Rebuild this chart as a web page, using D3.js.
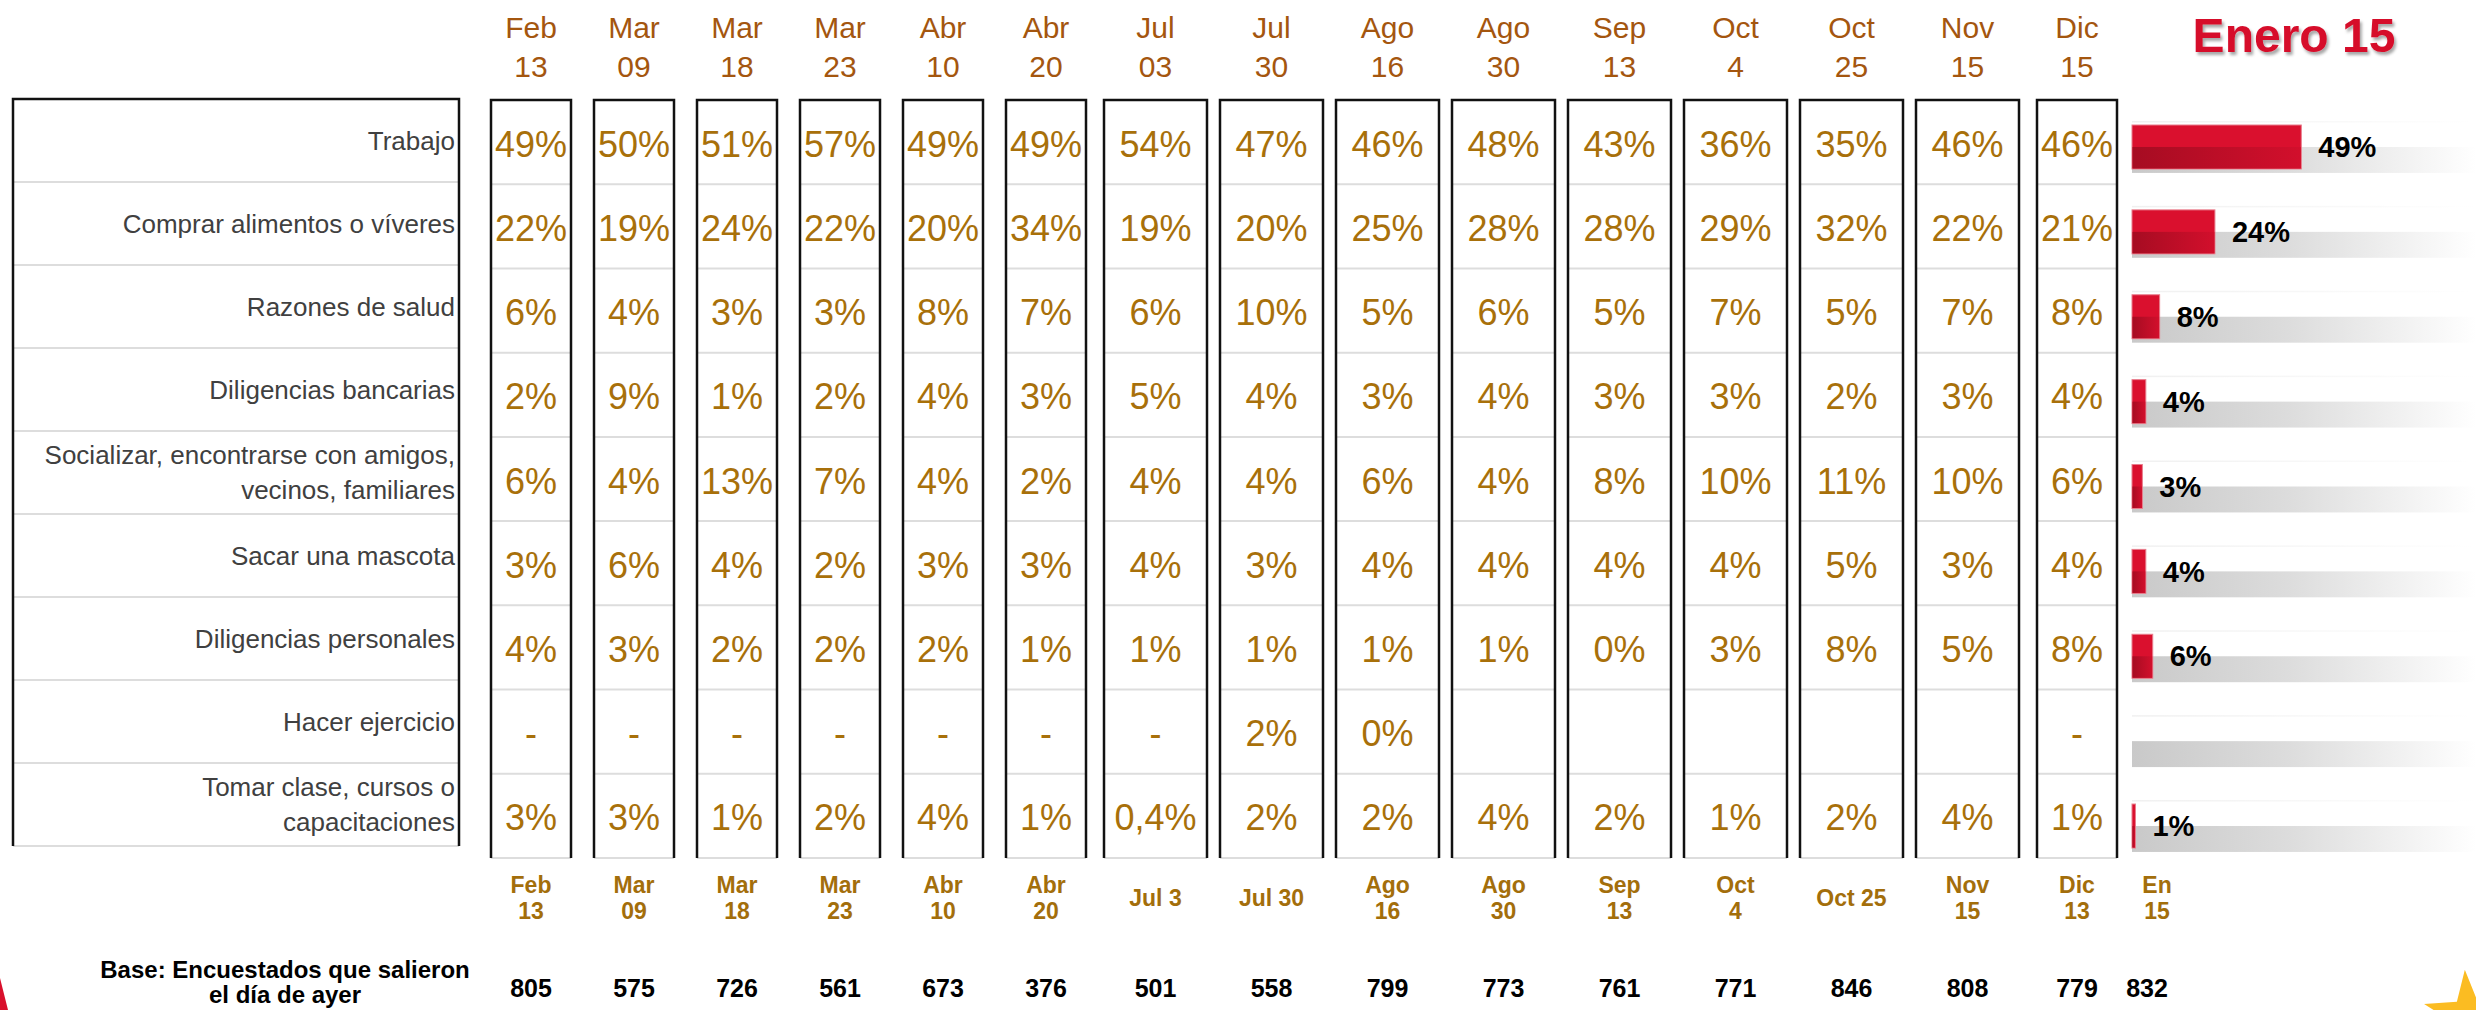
<!DOCTYPE html>
<html>
<head>
<meta charset="utf-8">
<script src="https://cdn.jsdelivr.net/npm/d3@7"></script>
<style>
  body { margin: 0; background: #fff; }
  svg { display: block; font-family: 'Liberation Sans', Arial, sans-serif; }
</style>
</head>
<body>
<div id="chart"></div>
<script>
const categories = [
    'Trabajo',
    'Comprar alimentos o víveres',
    'Razones de salud',
    'Diligencias bancarias',
    'Socializar, encontrarse con amigos,\nvecinos, familiares',
    'Sacar una mascota',
    'Diligencias personales',
    'Hacer ejercicio',
    'Tomar clase, cursos o\ncapacitaciones'
];

const surveyDates = ['Feb\n13', 'Mar\n09', 'Mar\n18', 'Mar\n23', 'Abr\n10', 'Abr\n20',
    'Jul\n03', 'Jul\n30', 'Ago\n16', 'Ago\n30', 'Sep\n13', 'Oct\n4', 'Oct\n25', 'Nov\n15', 'Dic\n15'];

// one array per category, one value per survey ('-' = dash, null = empty cell)
const trabajo = [49, 50, 51, 57, 49, 49, 54, 47, 46, 48, 43, 36, 35, 46, 46];
const comprarAlimentos = [22, 19, 24, 22, 20, 34, 19, 20, 25, 28, 28, 29, 32, 22, 21];
const razonesSalud = [6, 4, 3, 3, 8, 7, 6, 10, 5, 6, 5, 7, 5, 7, 8];
const diligenciasBancarias = [2, 9, 1, 2, 4, 3, 5, 4, 3, 4, 3, 3, 2, 3, 4];
const socializar = [6, 4, 13, 7, 4, 2, 4, 4, 6, 4, 8, 10, 11, 10, 6];
const sacarMascota = [3, 6, 4, 2, 3, 3, 4, 3, 4, 4, 4, 4, 5, 3, 4];
const diligenciasPersonales = [4, 3, 2, 2, 2, 1, 1, 1, 1, 1, 0, 3, 8, 5, 8];
const hacerEjercicio = ['-', '-', '-', '-', '-', '-', '-', 2, 0, null, null, null, null, null, '-'];
const tomarClase = [3, 3, 1, 2, 4, 1, 0.4, 2, 2, 4, 2, 1, 2, 4, 1];

const enero15 = [49, 24, 8, 4, 3, 4, 6, null, 1];

const baseLabels = ['Feb\n13', 'Mar\n09', 'Mar\n18', 'Mar\n23', 'Abr\n10', 'Abr\n20',
    'Jul 3', 'Jul 30', 'Ago\n16', 'Ago\n30', 'Sep\n13', 'Oct\n4', 'Oct 25', 'Nov\n15', 'Dic\n13', 'En\n15'];
const baseCounts = [805, 575, 726, 561, 673, 376, 501, 558, 799, 773, 761, 771, 846, 808, 779, 832];

const rows = [trabajo, comprarAlimentos, razonesSalud, diligenciasBancarias, socializar,
    sacarMascota, diligenciasPersonales, hacerEjercicio, tomarClase];

const config = {
    width: 2476,
    height: 1010,
    firstCenter: 531,
    narrowSlot: 103,
    wideSlot: 116,
    narrowBox: 80,
    wideBox: 103,
    boxTop: 100,
    boxBottom: 858,
    labelLeft: 13,
    labelRight: 459,
    labelTop: 99,
    labelBottom: 846,
    barLeft: 2132,
    valueColor: '#a8700a',
    headColor: '#a4560f',
    baseColor: '#a36e0b',
    red: '#da102e'
};

// the surveys from Jul 03 to Nov 15 sit in wider boxes
const isWide = i => i >= 6 && i <= 13;

const columnCenters = () => {
    const centers = [config.firstCenter];
    for (let i = 1; i < surveyDates.length; i++) {
        const prev = isWide(i - 1) ? config.wideSlot : config.narrowSlot;
        const cur = isWide(i) ? config.wideSlot : config.narrowSlot;
        centers.push(centers[i - 1] + (prev + cur) / 2);
    }
    centers.push(centers[centers.length - 1] + 80);
    return centers;
};

const makeChart = () => {
    const svg = d3.select('#chart').append('svg')
        .attr('width', config.width)
        .attr('height', config.height);

    const defs = svg.append('defs');
    const grayFade = defs.append('linearGradient').attr('id', 'grayFade');
    grayFade.append('stop').attr('offset', '0%').attr('stop-color', '#c9c9c9');
    grayFade.append('stop').attr('offset', '45%').attr('stop-color', '#dcdcdc');
    grayFade.append('stop').attr('offset', '100%').attr('stop-color', '#ffffff');
    const faintFade = defs.append('linearGradient').attr('id', 'faintFade');
    faintFade.append('stop').attr('offset', '0%').attr('stop-color', '#f0f0f0');
    faintFade.append('stop').attr('offset', '100%').attr('stop-color', '#ffffff');
    const redShade = defs.append('linearGradient').attr('id', 'redShade');
    redShade.append('stop').attr('offset', '0%').attr('stop-color', '#a60c22');
    redShade.append('stop').attr('offset', '100%').attr('stop-color', '#d20f2c');
    defs.append('filter').attr('id', 'shadow')
        .attr('x', '-10%').attr('y', '-10%').attr('width', '130%').attr('height', '140%')
        .append('feDropShadow')
            .attr('dx', 2).attr('dy', 3).attr('stdDeviation', 1.5)
            .attr('flood-color', '#000').attr('flood-opacity', 0.35);

    const centers = columnCenters();
    const colKeys = d3.range(surveyDates.length + 1);
    const xCol = d3.scaleOrdinal().domain(colKeys).range(centers);
    const boxWidth = i => isWide(i) ? config.wideBox : config.narrowBox;

    // label box
    const yLabel = d3.scaleBand()
        .domain(d3.range(categories.length))
        .range([config.labelTop, config.labelBottom]);

    const labelGroup = svg.append('g');
    labelGroup.selectAll('line.sep')
            .data(d3.range(1, categories.length + 1))
        .enter().append('line')
            .attr('x1', config.labelLeft).attr('x2', config.labelRight)
            .attr('y1', d => yLabel(d - 1) + yLabel.bandwidth())
            .attr('y2', d => yLabel(d - 1) + yLabel.bandwidth())
            .attr('stroke', '#dddddd').attr('stroke-width', 2);
    labelGroup.append('path')
        .attr('d', `M${config.labelLeft},${config.labelBottom}V${config.labelTop}H${config.labelRight}V${config.labelBottom}`)
        .attr('fill', 'none').attr('stroke', '#111').attr('stroke-width', 2.5);

    labelGroup.selectAll('text.cat')
            .data(categories)
        .enter().append('text')
            .attr('text-anchor', 'end')
            .attr('font-size', 26)
            .attr('fill', '#404040')
            .each(function(d, i) {
                const lines = d.split('\n');
                const cy = yLabel(i) + yLabel.bandwidth() / 2;
                lines.forEach((line, j) => {
                    d3.select(this).append('tspan')
                        .attr('x', config.labelRight - 4)
                        .attr('y', cy + (j - (lines.length - 1) / 2) * 35)
                        .attr('dy', '0.35em')
                        .text(line);
                });
            });

    // survey columns
    const yRow = d3.scaleBand()
        .domain(d3.range(categories.length))
        .range([config.boxTop, config.boxBottom]);

    const formatValue = v => {
        if (v === null) return '';
        if (v === '-') return '-';
        return String(v).replace('.', ',') + '%';
    };

    surveyDates.forEach((date, c) => {
        const cx = xCol(c);
        const w = boxWidth(c);
        const g = svg.append('g');

        g.selectAll('line')
                .data(d3.range(1, categories.length + 1))
            .enter().append('line')
                .attr('x1', cx - w / 2).attr('x2', cx + w / 2)
                .attr('y1', d => yRow(d - 1) + yRow.bandwidth())
                .attr('y2', d => yRow(d - 1) + yRow.bandwidth())
                .attr('stroke', '#dddddd').attr('stroke-width', 2);
        g.append('path')
            .attr('d', `M${cx - w / 2},${config.boxBottom}V${config.boxTop}H${cx + w / 2}V${config.boxBottom}`)
            .attr('fill', 'none').attr('stroke', '#111').attr('stroke-width', 2.5);

        g.selectAll('text')
                .data(rows.map(r => r[c]))
            .enter().append('text')
                .attr('x', cx)
                .attr('y', (d, i) => yRow(i) + yRow.bandwidth() / 2 + 2)
                .attr('dy', '0.35em')
                .attr('text-anchor', 'middle')
                .attr('font-size', 36)
                .attr('fill', config.valueColor)
                .text(formatValue);

        const head = svg.append('text')
            .attr('text-anchor', 'middle')
            .attr('font-size', 30)
            .attr('fill', config.headColor);
        date.split('\n').forEach((line, j) => {
            head.append('tspan')
                .attr('x', cx)
                .attr('y', 27 + j * 39)
                .attr('dy', '0.35em')
                .text(line);
        });
    });

    // bottom labels and bases
    baseLabels.forEach((label, c) => {
        const lines = label.split('\n');
        const t = svg.append('text')
            .attr('text-anchor', 'middle')
            .attr('font-size', 23)
            .attr('font-weight', 'bold')
            .attr('fill', config.baseColor);
        lines.forEach((line, j) => {
            t.append('tspan')
                .attr('x', xCol(c))
                .attr('y', 898 + (j - (lines.length - 1) / 2) * 26)
                .attr('dy', '0.35em')
                .text(line);
        });
    });

    svg.selectAll('text.base')
            .data(baseCounts)
        .enter().append('text')
            .attr('x', (d, i) => xCol(i) - (i === baseCounts.length - 1 ? 10 : 0))
            .attr('y', 988)
            .attr('dy', '0.35em')
            .attr('text-anchor', 'middle')
            .attr('font-size', 25)
            .attr('font-weight', 'bold')
            .attr('fill', '#000')
            .text(d => d);

    const baseTitle = svg.append('text')
        .attr('text-anchor', 'middle')
        .attr('font-size', 24)
        .attr('font-weight', 'bold')
        .attr('fill', '#000');
    ['Base: Encuestados que salieron', 'el día de ayer'].forEach((line, j) => {
        baseTitle.append('tspan')
            .attr('x', 285)
            .attr('y', 970 + j * 25)
            .attr('dy', '0.35em')
            .text(line);
    });

    // Enero 15 bars
    const xBar = d3.scaleLinear().domain([0, 100]).range([config.barLeft, config.barLeft + 345.5]);
    const yBar = d3.scaleBand()
        .domain(d3.range(categories.length))
        .range([125, 848])
        .paddingInner(0.482)
        .paddingOuter(0);
    const bh = yBar.bandwidth();

    const barGroup = svg.append('g');
    barGroup.selectAll('rect.faint')
            .data(enero15)
        .enter().append('rect')
            .attr('x', config.barLeft)
            .attr('y', (d, i) => yBar(i) - 4)
            .attr('width', config.width - config.barLeft)
            .attr('height', 1.5)
            .attr('fill', 'url(#faintFade)');
    barGroup.selectAll('rect.track')
            .data(enero15)
        .enter().append('rect')
            .attr('x', config.barLeft)
            .attr('y', (d, i) => yBar(i) + bh / 2)
            .attr('width', config.width - config.barLeft)
            .attr('height', bh * 0.59)
            .attr('fill', 'url(#grayFade)');

    const withValue = enero15.map((v, i) => ({ v, i })).filter(d => d.v !== null);
    barGroup.selectAll('rect.bar')
            .data(withValue)
        .enter().append('rect')
            .attr('x', config.barLeft)
            .attr('y', d => yBar(d.i))
            .attr('width', d => xBar(d.v) - config.barLeft)
            .attr('height', bh)
            .attr('fill', config.red)
            .attr('stroke', '#e87d8c')
            .attr('stroke-width', 1);
    barGroup.selectAll('rect.shade')
            .data(withValue)
        .enter().append('rect')
            .attr('x', config.barLeft + 0.5)
            .attr('y', d => yBar(d.i) + bh / 2)
            .attr('width', d => Math.max(0, xBar(d.v) - config.barLeft - 1))
            .attr('height', bh / 2 - 0.5)
            .attr('fill', 'url(#redShade)');
    barGroup.selectAll('text')
            .data(withValue)
        .enter().append('text')
            .attr('x', d => xBar(d.v) + 17)
            .attr('y', d => yBar(d.i) + bh / 2)
            .attr('dy', '0.35em')
            .attr('font-size', 29)
            .attr('font-weight', 'bold')
            .attr('fill', '#000')
            .text(d => d.v + '%');

    svg.append('text')
        .attr('x', 2294)
        .attr('y', 35)
        .attr('dy', '0.35em')
        .attr('text-anchor', 'middle')
        .attr('font-size', 48)
        .attr('font-weight', 'bold')
        .attr('fill', '#d6102c')
        .attr('filter', 'url(#shadow)')
        .text('Enero 15');

    // corner decorations
    svg.append('path')
        .attr('d', 'M0,978L8,1010L0,1010Z')
        .attr('fill', '#d9102c');
    svg.append('path')
        .attr('d', d3.symbol(d3.symbolStar, 2300)())
        .attr('transform', 'translate(2468,1015) rotate(-4)')
        .attr('fill', '#fbbc22');
};

makeChart();
</script>
</body>
</html>
